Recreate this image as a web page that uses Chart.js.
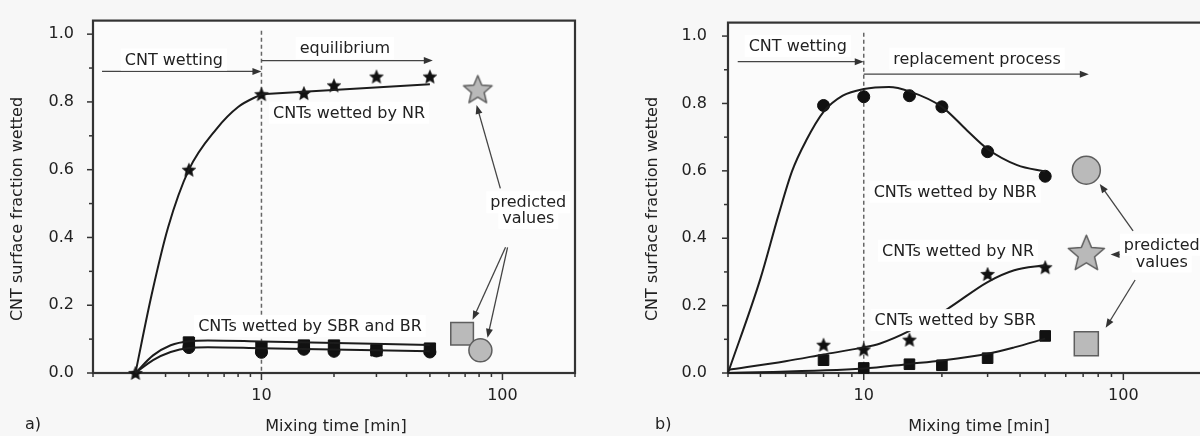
<!DOCTYPE html>
<html>
<head>
<meta charset="utf-8">
<script src="https://cdn.jsdelivr.net/npm/chart.js@4/dist/chart.umd.min.js"></script>
<style>
html, body { margin:0; padding:0; width:1200px; height:436px; overflow:hidden; background:#f7f7f7; }
#wa { position:absolute; left:0; top:0; width:600px; height:436px; }
#wb { position:absolute; left:600px; top:0; width:620px; height:436px; }
canvas { display:block; }
</style>
</head>
<body>
<div id="wa"><canvas id="ca" width="600" height="436"></canvas></div>
<div id="wb"><canvas id="cb" width="620" height="436"></canvas></div>
<script>
// ---------------- Panel a data ----------------
const aNRTime = [3, 5, 10, 15, 20, 30, 50];
const aNRValue = [0.0, 0.60, 0.823, 0.826, 0.849, 0.875, 0.875];
const aSBRTime = [5, 10, 15, 20, 30, 50];
const aSBRValue = [0.090, 0.075, 0.081, 0.081, 0.067, 0.072];
const aBRTime = [5, 10, 15, 20, 30, 50];
const aBRValue = [0.075, 0.061, 0.070, 0.064, 0.065, 0.062];
const aNRFitTime = [3, 3.5, 4.1, 5, 6.5, 8, 10];
const aNRFitValue = [0.0, 0.23, 0.43, 0.60, 0.72, 0.785, 0.823];
const aNREqTime = [10, 50];
const aNREqValue = [0.823, 0.852];
const aSBRFitTime = [3, 3.55, 4.2, 5, 6, 10, 50];
const aSBRFitValue = [0.0, 0.052, 0.082, 0.094, 0.096, 0.093, 0.083];
const aBRFitTime = [3, 3.55, 4.2, 5, 6, 10, 50];
const aBRFitValue = [0.0, 0.038, 0.062, 0.074, 0.076, 0.073, 0.064];
const aPredictedTime = [79, 68, 81];          // NR, SBR, BR
const aPredictedValue = [0.838, 0.116, 0.067];

// ---------------- Panel b data ----------------
const bNBRTime = [7, 10, 15, 20, 30, 50];
const bNBRValue = [0.794, 0.820, 0.823, 0.790, 0.657, 0.584];
const bNRTime = [7, 10, 15, 30, 50];
const bNRValue = [0.084, 0.070, 0.099, 0.294, 0.314];
const bSBRTime = [7, 10, 15, 20, 30, 50];
const bSBRValue = [0.038, 0.015, 0.026, 0.023, 0.044, 0.110];
const bNBRFitTime = [3, 4, 4.7, 5.3, 6, 7, 8.3, 10, 12.5, 15, 20, 25, 30, 39, 50];
const bNBRFitValue = [0.0, 0.28, 0.47, 0.60, 0.69, 0.775, 0.823, 0.843, 0.849, 0.836, 0.79, 0.72, 0.665, 0.617, 0.598];
const bNRFitTime = [3, 5, 7, 10, 11.5, 15, 21, 30, 38, 50];
const bNRFitValue = [0.009, 0.035, 0.055, 0.076, 0.087, 0.125, 0.19, 0.27, 0.305, 0.32];
const bSBRFitTime = [3, 10, 15, 20, 30, 38, 50];
const bSBRFitValue = [0.0, 0.013, 0.027, 0.037, 0.057, 0.076, 0.102];
const bPredictedTime = [72, 72, 72];           // NBR, NR, SBR
const bPredictedValue = [0.602, 0.358, 0.087];

// ---------------- Axes ----------------
const yMajorTicks = [0, 0.2, 0.4, 0.6, 0.8, 1.0];
const yMinorTicks = [0.1, 0.3, 0.5, 0.7, 0.9];
const xMajorTicks = [10, 100];
const aXMinorTicks = [2, 3, 4, 5, 6, 7, 8, 9, 20, 30, 40, 50, 60, 70, 80, 90, 200];
const bXMinorTicks = [3, 4, 5, 6, 7, 8, 9, 20, 30, 40, 50, 60, 70, 80, 90, 200];

const FONT = "'DejaVu Sans', sans-serif";
Chart.defaults.font.family = FONT;
Chart.defaults.font.size = 16;
Chart.defaults.color = '#222';

function makeStar(R, fill, stroke, lw) {
  const pad = lw + 1;
  const w = Math.ceil(2 * R + 2 * pad);
  const c = document.createElement('canvas');
  c.width = w; c.height = w;
  const ctx = c.getContext('2d');
  const cx = w / 2, cy = w / 2 + 0.095 * R, r = R * 0.45;
  ctx.beginPath();
  for (let k = 0; k < 10; k++) {
    const rad = (k % 2 === 0) ? R : r;
    const ang = -Math.PI / 2 + k * Math.PI / 5;
    const px = cx + rad * Math.cos(ang), py = cy + rad * Math.sin(ang);
    if (k === 0) ctx.moveTo(px, py); else ctx.lineTo(px, py);
  }
  ctx.closePath();
  ctx.fillStyle = fill; ctx.fill();
  if (lw > 0) { ctx.lineWidth = lw; ctx.strokeStyle = stroke; ctx.lineJoin = 'round'; ctx.stroke(); }
  return c;
}
const starBlack = makeStar(7.2, '#111', '#111', 0.6);
const starGrayA = makeStar(15, '#b9b9b9', '#5e5e5e', 1.5);
const starGrayB = makeStar(19, '#b9b9b9', '#5e5e5e', 1.5);

function pts(xs, ys) { return xs.map((x, i) => ({ x: x, y: ys[i] })); }
function fitSet(xs, ys, smooth) {
  return { data: pts(xs, ys), showLine: true, borderColor: '#1c1c1c', borderWidth: 2,
    pointRadius: 0, cubicInterpolationMode: smooth ? 'monotone' : 'default', tension: 0, clip: false };
}
function markSet(xs, ys, style, radius) {
  return { data: pts(xs, ys), showLine: false, pointStyle: style, pointRadius: radius,
    pointBackgroundColor: '#111', pointBorderColor: '#111', pointBorderWidth: 1, clip: false };
}
function predSet(xs, ys, styles, radii) {
  return { data: pts(xs, ys), showLine: false, pointStyle: styles, pointRadius: radii,
    pointBackgroundColor: '#bababa', pointBorderColor: '#5e5e5e', pointBorderWidth: 1.5, clip: false };
}

function drawArrow(ctx, x1, y1, x2, y2) {
  const ang = Math.atan2(y2 - y1, x2 - x1), hl = 9, hw = 3.5;
  ctx.strokeStyle = '#444'; ctx.fillStyle = '#333'; ctx.lineWidth = 1.3;
  ctx.beginPath(); ctx.moveTo(x1, y1);
  ctx.lineTo(x2 - hl * 0.8 * Math.cos(ang), y2 - hl * 0.8 * Math.sin(ang)); ctx.stroke();
  ctx.beginPath();
  ctx.moveTo(x2, y2);
  ctx.lineTo(x2 - hl * Math.cos(ang) + hw * Math.sin(ang), y2 - hl * Math.sin(ang) - hw * Math.cos(ang));
  ctx.lineTo(x2 - hl * Math.cos(ang) - hw * Math.sin(ang), y2 - hl * Math.sin(ang) + hw * Math.cos(ang));
  ctx.closePath(); ctx.fill();
}

function decorPlugin(cfg) {
  return {
    id: 'decor',
    beforeDatasetsDraw(chart) {
      const ctx = chart.ctx, a = chart.chartArea, sx = chart.scales.x, sy = chart.scales.y;
      ctx.save();
      ctx.fillStyle = '#fbfbfb';
      ctx.fillRect(a.left, a.top, a.right - a.left, a.bottom - a.top);
      const xd = sx.getPixelForValue(10);
      ctx.strokeStyle = '#666'; ctx.lineWidth = 1.5; ctx.setLineDash([4, 3]);
      ctx.beginPath(); ctx.moveTo(xd, sy.getPixelForValue(1.01)); ctx.lineTo(xd, a.bottom); ctx.stroke();
      ctx.setLineDash([]);
      ctx.strokeStyle = '#333'; ctx.lineWidth = 2.2;
      ctx.strokeRect(a.left, a.top, a.right - a.left, a.bottom - a.top);
      ctx.lineWidth = 1.5; ctx.strokeStyle = '#333';
      sy.ticks.forEach(t => {
        const y = sy.getPixelForValue(t.value), len = t.major ? 6 : 4;
        ctx.beginPath(); ctx.moveTo(a.left - len, y); ctx.lineTo(a.left, y); ctx.stroke();
      });
      sx.ticks.forEach(t => {
        const x = sx.getPixelForValue(t.value), len = t.major ? 7 : 4;
        ctx.beginPath(); ctx.moveTo(x, a.bottom); ctx.lineTo(x, a.bottom + len); ctx.stroke();
      });
      ctx.restore();
    },
    afterDatasetsDraw(chart) {
      const ctx = chart.ctx, sx = chart.scales.x, sy = chart.scales.y;
      const X = t => sx.getPixelForValue(t), Y = v => sy.getPixelForValue(v);
      ctx.save();
      cfg.arrows.forEach(ar => drawArrow(ctx, X(ar[0]), Y(ar[1]), X(ar[2]), Y(ar[3])));
      ctx.font = '16px ' + FONT; ctx.textAlign = 'center'; ctx.textBaseline = 'middle';
      cfg.labels.forEach(l => {
        const x = X(l.t), y = Y(l.v);
        const w = ctx.measureText(l.text).width;
        ctx.fillStyle = '#ffffff';
        ctx.fillRect(x - w / 2 - 4, y - 11, w + 8, 22);
        ctx.fillStyle = '#222';
        ctx.fillText(l.text, x, y + 1);
      });
      ctx.fillStyle = '#222';
      ctx.fillText('Mixing time [min]', cfg.xTitle[0], cfg.xTitle[1]);
      ctx.textAlign = 'left';
      ctx.fillText(cfg.letter, cfg.letterPos[0], cfg.letterPos[1]);
      ctx.translate(cfg.yTitle[0], cfg.yTitle[1]);
      ctx.rotate(-Math.PI / 2);
      ctx.textAlign = 'center';
      ctx.fillText('CNT surface fraction wetted', 0, 0);
      ctx.restore();
    }
  };
}

function makeOptions(xMin, xMinor, yWidth, yPad, padRight) {
  return {
    responsive: false, animation: false,
    layout: { padding: { left: 0, top: 15, right: padRight, bottom: 0 } },
    plugins: { legend: { display: false }, tooltip: { enabled: false } },
    scales: {
      x: {
        type: 'logarithmic', min: xMin, max: 200, bounds: 'data',
        grid: { display: false }, border: { display: false },
        ticks: { autoSkip: false, maxRotation: 0, padding: 5, color: '#222',
          callback: v => (xMajorTicks.includes(v) ? String(v) : '') },
        afterBuildTicks: s => {
          s.ticks = xMajorTicks.concat(xMinor).sort((p, q) => p - q)
            .map(v => ({ value: v, major: xMajorTicks.includes(v) }));
        },
        afterFit: s => { s.height = 63; }
      },
      y: {
        type: 'linear', min: 0, max: 1.04, bounds: 'data',
        grid: { display: false }, border: { display: false },
        ticks: { autoSkip: false, padding: yPad, color: '#222',
          callback: v => (yMajorTicks.some(m => Math.abs(m - v) < 1e-6) ? v.toFixed(1) : '') },
        afterBuildTicks: s => {
          s.ticks = yMajorTicks.concat(yMinorTicks).sort((p, q) => p - q)
            .map(v => ({ value: v, major: yMajorTicks.includes(v) }));
        },
        afterFit: s => { s.width = yWidth; }
      }
    }
  };
}

new Chart(document.getElementById('ca'), {
  type: 'line',
  data: { datasets: [
    fitSet(aNRFitTime, aNRFitValue, true),
    fitSet(aNREqTime, aNREqValue, false),
    fitSet(aSBRFitTime, aSBRFitValue, true),
    fitSet(aBRFitTime, aBRFitValue, true),
    markSet(aSBRTime, aSBRValue, 'rect', 8),
    markSet(aBRTime, aBRValue, 'circle', 6),
    markSet(aNRTime, aNRValue, starBlack, 6),
    predSet(aPredictedTime, aPredictedValue, [starGrayA, 'rect', 'circle'], [15, 16, 11.5])
  ] },
  options: makeOptions(2, aXMinorTicks, 93, 11, 25),
  plugins: [decorPlugin({
    labels: [
      { text: 'CNT wetting', t: 4.33, v: 0.925 },
      { text: 'equilibrium', t: 22.2, v: 0.959 },
      { text: 'CNTs wetted by NR', t: 23.1, v: 0.768 },
      { text: 'CNTs wetted by SBR and BR', t: 15.9, v: 0.139 },
      { text: 'predicted', t: 128, v: 0.504 },
      { text: 'values', t: 128, v: 0.458 }
    ],
    arrows: [
      [2.18, 0.89, 10, 0.89],
      [10, 0.922, 51.4, 0.922],
      [98, 0.545, 78.1, 0.791],
      [103, 0.371, 75.2, 0.157],
      [105, 0.371, 86.7, 0.104]
    ],
    xTitle: [336, 427], yTitle: [18, 209], letter: 'a)', letterPos: [25, 425]
  })]
});

new Chart(document.getElementById('cb'), {
  type: 'line',
  data: { datasets: [
    fitSet(bNBRFitTime, bNBRFitValue, true),
    fitSet(bNRFitTime, bNRFitValue, true),
    fitSet(bSBRFitTime, bSBRFitValue, true),
    markSet(bNBRTime, bNBRValue, 'circle', 6),
    markSet(bNRTime, bNRValue, starBlack, 6),
    markSet(bSBRTime, bSBRValue, 'rect', 7.5),
    predSet(bPredictedTime, bPredictedValue, ['circle', starGrayB, 'rect'], [14, 19, 17])
  ] },
  options: makeOptions(3, bXMinorTicks, 128, 13, 13),
  plugins: [decorPlugin({
    labels: [
      { text: 'CNT wetting', t: 5.57, v: 0.971 },
      { text: 'replacement process', t: 27.3, v: 0.933 },
      { text: 'CNTs wetted by NBR', t: 22.5, v: 0.538 },
      { text: 'CNTs wetted by NR', t: 23.1, v: 0.363 },
      { text: 'CNTs wetted by SBR', t: 22.5, v: 0.157 },
      { text: 'predicted', t: 140.6, v: 0.381 },
      { text: 'values', t: 140.6, v: 0.331 }
    ],
    arrows: [
      [3.27, 0.924, 10, 0.924],
      [10, 0.887, 73.6, 0.887],
      [109, 0.422, 81.1, 0.561],
      [99, 0.352, 89.3, 0.352],
      [111, 0.276, 85.5, 0.134]
    ],
    xTitle: [379, 427], yTitle: [53, 209], letter: 'b)', letterPos: [55, 425]
  })]
});
</script>
</body>
</html>
